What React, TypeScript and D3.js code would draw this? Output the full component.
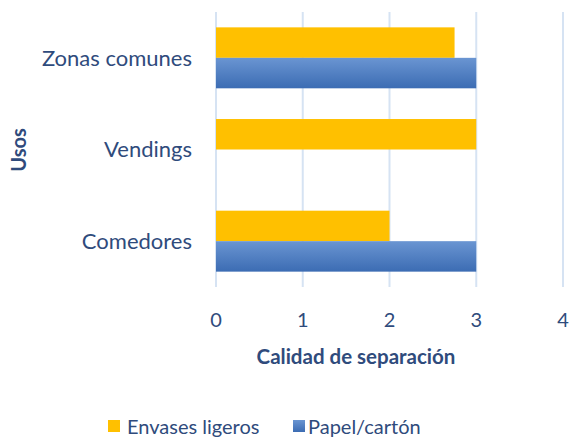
import React from 'react';
import * as d3 from 'd3';

const categories = ['Zonas comunes', 'Vendings', 'Comedores'];
const seriesNames = ['Envases ligeros', 'Papel/cartón'];
const envasesValues = [2.75, 3, 2];
const papelValues = [3, 0, 3];
const xTicks = [0, 1, 2, 3, 4];

const W = 569;
const H = 437;
const textColor = '#2F4B7C';
const fontFamily = 'Lato, "Open Sans", sans-serif';

const App: React.FC = () => {
  const x = d3.scaleLinear().domain([0, 4]).range([216, 563]);
  const y = d3.scaleBand<string>()
    .domain(categories)
    .range([12, 287])
    .paddingInner(0.335)
    .paddingOuter(0.1675);
  const sub = d3.scaleBand<string>()
    .domain(seriesNames)
    .range([0, y.bandwidth()]);

  const series = [
    { name: seriesNames[0], values: envasesValues, fill: '#FFC000' },
    { name: seriesNames[1], values: papelValues, fill: 'url(#blueGrad)' },
  ];

  return (
    <svg width={W} height={H} style={{ position: 'absolute', left: 0, top: 0 }} fontFamily={fontFamily}>
      <defs>
        <linearGradient id="blueGrad" x1="0" y1="0" x2="0" y2="1">
          <stop offset="0%" stopColor="#6A95D2" />
          <stop offset="100%" stopColor="#3C6CB3" />
        </linearGradient>
      </defs>
      <rect width={W} height={H} fill="#fff" />

      {/* grid */}
      {xTicks.map(t => (
        <line key={t} x1={x(t)} x2={x(t)} y1={12} y2={287} stroke="#D6E3F3" strokeWidth={2} />
      ))}

      {/* bars */}
      {series.map(s => (
        <g key={s.name}>
          {categories.map((c, i) => (
            s.values[i] > 0 ? (
              <rect
                key={c}
                x={x(0)}
                y={(y(c) ?? 0) + (sub(s.name) ?? 0)}
                width={x(s.values[i]) - x(0)}
                height={sub.bandwidth()}
                fill={s.fill}
              />
            ) : null
          ))}
        </g>
      ))}

      {/* category labels */}
      {categories.map(c => (
        <text key={c} x={192} y={(y(c) ?? 0) + y.bandwidth() / 2} dy="0.35em" textAnchor="end"
          fontSize={22} fill={textColor}>{c}</text>
      ))}

      {/* x tick labels */}
      {xTicks.map(t => (
        <text key={t} x={x(t)} y={320} dy="0.35em" textAnchor="middle" fontSize={20} fill={textColor}>{t}</text>
      ))}

      {/* axis titles */}
      <text x={356} y={357} dy="0.35em" textAnchor="middle" fontSize={20.5} fontWeight="bold" fill={textColor}>
        Calidad de separación
      </text>
      <text transform="translate(19,150) rotate(-90)" dy="0.35em" textAnchor="middle" fontSize={20}
        fontWeight="bold" fill={textColor}>Usos</text>

      {/* legend */}
      <rect x={108} y={420} width={12} height={12} fill="#FFC000" />
      <text x={127} y={427} dy="0.35em" fontSize={20} fill={textColor}>{seriesNames[0]}</text>
      <rect x={293} y={420} width={12} height={12} fill="url(#blueGrad)" />
      <text x={308} y={427} dy="0.35em" fontSize={20} fill={textColor}>{seriesNames[1]}</text>
    </svg>
  );
};

export default App;
